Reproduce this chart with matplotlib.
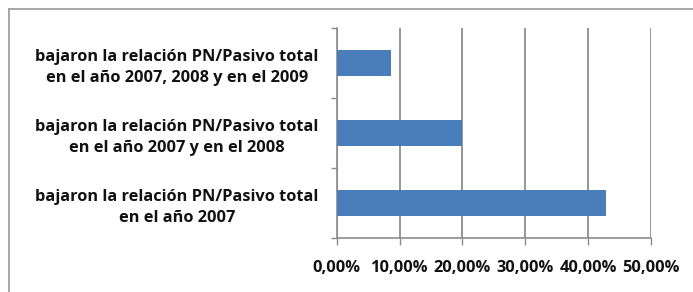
import matplotlib

matplotlib.use("Agg")
import matplotlib.pyplot as plt
from matplotlib.lines import Line2D
from matplotlib.ticker import FuncFormatter, FixedLocator

categories = [
    "bajaron la relación PN/Pasivo total\nen el año 2007",
    "bajaron la relación PN/Pasivo total\nen el año 2007 y en el 2008",
    "bajaron la relación PN/Pasivo total\nen el año 2007, 2008 y en el 2009",
]
values = [42.8, 20.0, 8.6]
x_ticks = [0, 10, 20, 30, 40, 50]

bar_color = "#4a7ebb"
grid_color = "#8c8c8c"

plt.rcParams["font.family"] = ["Open Sans", "DejaVu Sans"]

fig = plt.figure(figsize=(6.93, 2.92), dpi=100)
ax = fig.add_axes([0.486, 0.185, 0.453, 0.719])

pos = list(range(len(categories)))
ax.barh(pos, values, height=0.38, color=bar_color, zorder=3)

ax.set_xlim(0, 50)
ax.set_ylim(-0.5, len(categories) - 0.5)
ax.set_xticks(x_ticks)
ax.xaxis.set_major_formatter(FuncFormatter(lambda v, p: f"{v:.2f}%".replace(".", ",")))
ax.xaxis.grid(True, color=grid_color, linewidth=1.3, zorder=0)

ax.set_yticks(pos)
ax.set_yticklabels(categories, ha="right", multialignment="center", linespacing=1.4)
ax.yaxis.set_minor_locator(FixedLocator([p - 0.5 for p in pos] + [len(pos) - 0.5]))
ax.tick_params(axis="y", which="major", length=0, pad=13)
ax.tick_params(axis="y", which="minor", length=4, color=grid_color, width=1)
ax.tick_params(axis="x", length=5, color=grid_color, width=1, pad=11)

for lab in ax.get_yticklabels() + ax.get_xticklabels():
    lab.set_fontweight("bold")
    lab.set_fontsize(11.8)
    lab.set_color("#111111")

for side in ["top", "right"]:
    ax.spines[side].set_visible(False)
for side in ["left", "bottom"]:
    ax.spines[side].set_color(grid_color)
    ax.spines[side].set_linewidth(1.2)

# outer chart border (only top and left edges visible in the crop)
bx = 8.5 / 693
by = 1 - 8.5 / 292
fig.add_artist(Line2D([bx, 1.0], [by, by], color="#a0a0a0", linewidth=1.3))
fig.add_artist(Line2D([bx, bx], [0.0, by], color="#a0a0a0", linewidth=1.3))

fig.savefig("out.png", dpi=100)
plt.close(fig)
